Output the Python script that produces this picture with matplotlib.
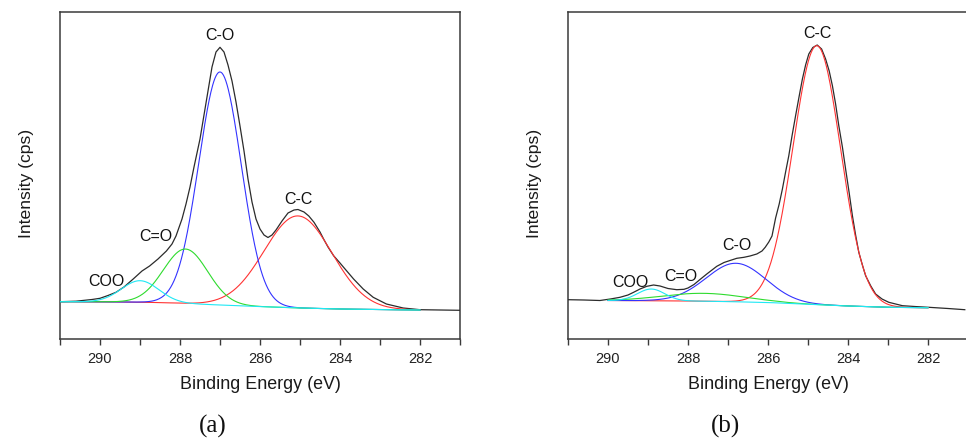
import numpy as np
import matplotlib
matplotlib.use("Agg")
import matplotlib.pyplot as plt
from matplotlib.ticker import MultipleLocator

# ---------------- data ----------------
# Panel (a): measured envelope (binding energy, intensity)
env_a_be = [291.0, 290.6, 290.2, 290.0, 289.8, 289.6, 289.4, 289.17, 288.95, 288.76,
            288.55, 288.34, 288.2, 288.1, 287.95, 287.85, 287.75, 287.65, 287.5, 287.35,
            287.2, 287.1, 287.0, 286.9, 286.8, 286.7, 286.6, 286.5, 286.4, 286.3,
            286.2, 286.1, 286.0, 285.9, 285.8, 285.7, 285.6, 285.45, 285.3, 285.15,
            285.05, 284.9, 284.78, 284.65, 284.5, 284.41, 284.3, 284.16, 284.0, 283.91,
            283.66, 283.42, 283.17, 282.84, 282.42, 282.0, 281.0]
env_a_int = [37.3, 37.8, 39.5, 40.7, 43.5, 46.7, 52.0, 60.0, 68.0, 73.0,
             80.0, 88.0, 95.0, 103.0, 120.0, 135.0, 152.0, 172.0, 200.0, 236.0,
             272.0, 287.0, 291.7, 287.0, 274.0, 258.0, 237.0, 213.0, 188.0, 160.0,
             137.0, 120.0, 110.0, 104.0, 101.5, 104.0, 109.0, 118.0, 126.0, 129.0,
             129.5, 127.0, 123.0, 116.7, 107.0, 100.0, 92.0, 83.3, 76.0, 71.7,
             60.0, 50.0, 41.7, 35.0, 31.0, 29.3, 28.7]
bg_a_be = [291.0, 290.0, 289.0, 288.5, 288.0, 287.5, 287.0, 286.5, 286.0, 285.5, 285.0, 284.0, 283.0, 282.0]
bg_a_int = [37.3, 37.2, 36.8, 36.4, 35.7, 34.8, 34.0, 33.2, 32.4, 31.7, 31.0, 30.0, 29.4, 29.0]
peaks_a_name = ["COO", "C=O", "C-O", "C-C"]
peaks_a_center = [289.0, 287.86, 287.0, 285.05]
peaks_a_height = [21.5, 54.5, 233.0, 92.0]
peaks_a_fwhm = [1.1, 1.3, 1.25, 2.0]

# Panel (b)
env_b_be = [291.0, 290.6, 290.2, 289.94, 289.7, 289.5, 289.36, 289.2, 289.03, 288.86,
            288.7, 288.5, 288.28, 288.1, 288.0, 287.85, 287.7, 287.53, 287.4, 287.28,
            287.1, 286.95, 286.78, 286.6, 286.45, 286.28, 286.15, 286.07, 285.98, 285.9,
            285.81, 285.72, 285.64, 285.56, 285.48, 285.4, 285.31, 285.22, 285.14, 285.06,
            284.98, 284.88, 284.77, 284.66, 284.56, 284.47, 284.39, 284.31, 284.23, 284.14,
            284.06, 283.97, 283.89, 283.81, 283.73, 283.64, 283.56, 283.43, 283.31, 283.15,
            282.98, 282.64, 282.3, 281.98, 281.5, 281.08]
env_b_int = [39.3, 39.0, 38.5, 40.0, 41.7, 44.0, 46.7, 50.0, 52.7, 54.0,
             53.0, 50.5, 49.3, 49.7, 51.0, 54.5, 59.5, 65.0, 69.0, 72.7,
             76.5, 78.5, 80.7, 81.7, 83.0, 85.0, 88.0, 91.7, 97.0, 103.0,
             121.0, 135.0, 150.0, 167.0, 183.3, 203.0, 223.3, 243.0, 260.0, 274.0,
             285.0, 291.5, 294.0, 290.0, 280.0, 268.0, 253.3, 235.0, 213.3, 192.0,
             170.0, 146.0, 123.3, 104.0, 86.7, 74.0, 63.3, 53.0, 45.0, 40.0,
             36.7, 33.3, 32.4, 31.7, 30.5, 29.3]
bg_b_be = [290.0, 289.0, 288.0, 287.0, 286.0, 285.0, 284.0, 283.0, 282.0]
bg_b_int = [38.5, 38.3, 38.0, 37.4, 36.5, 34.7, 33.0, 31.7, 31.3]
peaks_b_name = ["COO", "C=O", "C-O", "C-C"]
peaks_b_center = [288.92, 287.6, 286.8, 284.78]
peaks_b_height = [11.7, 7.9, 38.5, 259.0]
peaks_b_fwhm = [0.8, 2.4, 1.75, 1.4]

xticks = [290, 288, 286, 284, 282]
panel_labels = ["(a)", "(b)"]

# ---------------- style ----------------
colors = ["#1fe8f5", "#2edb2e", "#3333ff", "#ff3333"]
frame_col = "#3a3a3a"
sans = ["Liberation Sans", "DejaVu Sans"]
serif = ["Liberation Serif", "DejaVu Serif"]

fig = plt.figure(figsize=(9.66, 4.39), dpi=100)
W, H = 966, 439


def make_axes(left_px):
    ax = fig.add_axes([left_px / W, (H - 340) / H, 400 / W, 327 / H])
    return ax


def gauss(x, c, h, fw):
    s = fw / 2.3548
    return h * np.exp(-(x - c) ** 2 / (2 * s * s))


def draw(ax, env_be, env_int, bg_be, bg_int, names, centers, heights, fwhms,
         comp_range, label_pos):
    ax.plot(env_be, env_int, color="#2b2b2b", lw=0.9, zorder=3)
    x = np.linspace(comp_range[0], comp_range[1], 600)
    base = np.interp(x, bg_be[::-1], bg_int[::-1])
    order = [3, 2, 1, 0]
    for i in order:
        ax.plot(x, base + gauss(x, centers[i], heights[i], fwhms[i]),
                color=colors[i], lw=0.8, zorder=4 + (3 - i))
    for name, (bx, by) in zip(names, label_pos):
        ax.text(bx, by, name, ha="center", va="center", fontsize=11.5,
                family=sans, color="#111111", zorder=10)
    ax.set_xlim(291, 281)
    ax.set_ylim(0, 327)
    ax.set_yticks([])
    ax.set_xticks(xticks)
    ax.xaxis.set_minor_locator(MultipleLocator(1))
    ax.tick_params(axis="x", which="both", direction="out", length=4, width=1,
                   color=frame_col, labelsize=10.5, pad=5)
    for lab in ax.get_xticklabels():
        lab.set_family(sans)
        lab.set_color("#222222")
    for sp in ax.spines.values():
        sp.set_color(frame_col)
        sp.set_linewidth(1.1)
    ax.set_xlabel("Binding Energy (eV)", fontsize=12.9, family=sans,
                  color="#1a1a1a", labelpad=7)
    ax.set_ylabel("Intensity (cps)", fontsize=12.6, family=sans, color="#1a1a1a")
    ax.yaxis.set_label_coords(-26 / 400, (340 - 183) / 327)


ax_a = make_axes(60)
draw(ax_a, env_a_be, env_a_int, bg_a_be, bg_a_int, peaks_a_name,
     peaks_a_center, peaks_a_height, peaks_a_fwhm, (291.0, 282.0),
     [(289.85, 58.3), (288.61, 103.3), (287.0, 305.0), (285.03, 140.7)])

ax_b = make_axes(568)
ax_b.spines["right"].set_visible(False)
draw(ax_b, env_b_be, env_b_int, bg_b_be, bg_b_int, peaks_b_name,
     peaks_b_center, peaks_b_height, peaks_b_fwhm, (290.0, 282.0),
     [(289.43, 57.3), (288.18, 63.3), (286.79, 94.0), (284.76, 306.7)])

fig.text(213 / W, 1 - 426 / H, panel_labels[0], ha="center", va="center",
         fontsize=18, family=serif, color="#111111")
fig.text(726 / W, 1 - 426 / H, panel_labels[1], ha="center", va="center",
         fontsize=18, family=serif, color="#111111")

fig.savefig("out.png", dpi=100)
